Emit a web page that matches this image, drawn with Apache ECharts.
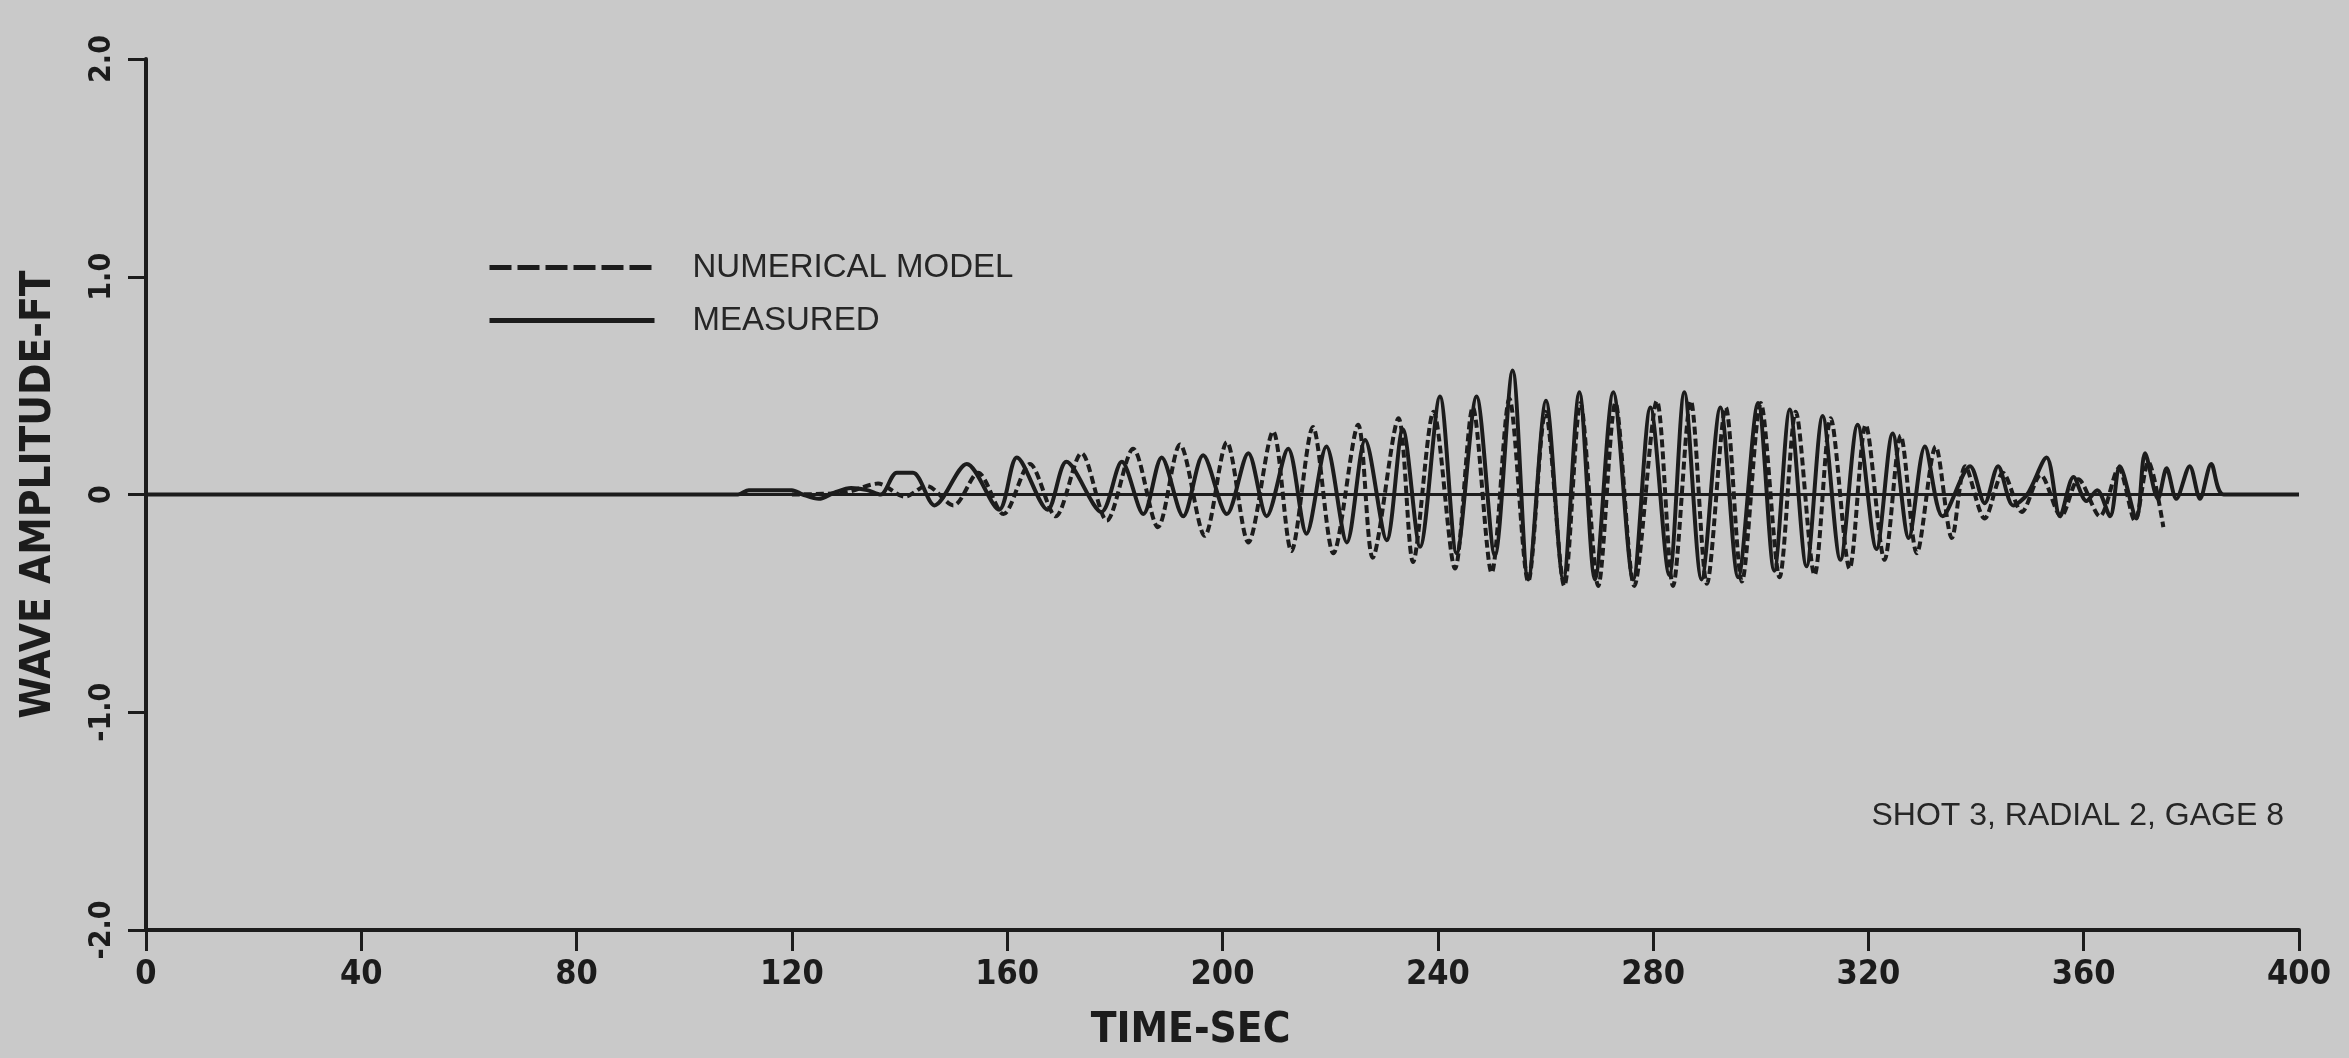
<!DOCTYPE html>
<html>
<head>
<meta charset="utf-8">
<title>Shot 3, Radial 2, Gage 8</title>
<script src="https://cdn.jsdelivr.net/npm/echarts@6/dist/echarts.min.js"></script>
<style>
  html, body { margin: 0; padding: 0; background: #c9c9c9; }
  #chart1 { width: 2349px; height: 1058px; }
</style>
</head>
<body>
<div id="chart1"></div>
<script>
// Valores (tiempo en s, amplitud en ft)
const xTicks = [0, 40, 80, 120, 160, 200, 240, 280, 320, 360, 400];
const yTicks = [-2, -1, 0, 1, 2];

// Registro medido: picos y valles aproximados
const medidoT = [0, 110, 112, 120, 122, 125, 128, 131, 134, 136.5, 139.5, 142.5, 146.5, 152.5, 158.5, 161.8,
  167.5, 171, 177.5, 181.3, 185.3, 188.7, 192.7, 196.4, 200.8, 204.8, 208.2, 212.2, 215.6, 219.3, 223.1, 226.5,
  230.5, 233.5, 236.7, 240.4, 243.5, 247.2, 250.6, 253.9, 256.8, 260.1, 263.3, 266.3, 269.2, 272.6, 276.3, 279.5,
  283, 285.8, 289, 292.5, 295.8, 299.5, 302.5, 305.4, 308.5, 311.5, 314.8, 318, 321.5, 324.5, 327.5, 330.5,
  333.8, 338.9, 341.6, 344.1, 346.9, 349.5, 353.1, 355.6, 358.1, 360.5, 362.5, 364.9, 366.7, 369.8, 371.4, 373.8,
  375.4, 377.2, 379.7, 381.6, 383.7, 386, 400];
const medidoV = [0, 0, 0.02, 0.02, 0, -0.02, 0.01, 0.03, 0.02, 0, 0.1, 0.1, -0.05, 0.14, -0.07, 0.17,
  -0.07, 0.15, -0.08, 0.15, -0.09, 0.17, -0.1, 0.18, -0.09, 0.19, -0.1, 0.21, -0.18, 0.22, -0.22, 0.25,
  -0.21, 0.3, -0.24, 0.45, -0.27, 0.45, -0.28, 0.57, -0.39, 0.43, -0.39, 0.47, -0.39, 0.47, -0.39, 0.4,
  -0.37, 0.47, -0.39, 0.4, -0.38, 0.42, -0.35, 0.39, -0.33, 0.36, -0.3, 0.32, -0.25, 0.28, -0.2, 0.22,
  -0.1, 0.13, -0.04, 0.13, -0.05, 0, 0.17, -0.1, 0.08, -0.03, 0.02, -0.1, 0.13, -0.11, 0.19, -0.02,
  0.12, -0.02, 0.13, -0.02, 0.14, 0, 0];

// Modelo numérico (línea discontinua)
const modeloT = [120, 130, 136, 141, 145, 150, 154.6, 159.3, 164.2, 169, 173.8, 178.5, 183.4, 188, 192.1, 196.7,
  200.8, 204.8, 209.4, 212.8, 216.8, 220.6, 225.2, 227.9, 232.7, 235.4, 239.2, 243.2, 246.5, 250, 253.3, 256.8,
  260, 263.5, 266.5, 269.8, 273, 276.5, 280.7, 283.7, 287, 290, 293.5, 296.5, 300, 303.5, 306.5, 310,
  313, 316.5, 319.5, 323, 326, 329, 332.5, 335.5, 338, 341.6, 345, 348.5, 352, 355.8, 359, 363,
  366.5, 369.5, 372, 374.8];
const modeloV = [0, 0.01, 0.05, -0.01, 0.04, -0.05, 0.1, -0.09, 0.14, -0.1, 0.19, -0.12, 0.21, -0.15, 0.23, -0.19,
  0.24, -0.22, 0.29, -0.26, 0.31, -0.27, 0.32, -0.29, 0.35, -0.31, 0.38, -0.34, 0.4, -0.36, 0.44, -0.4,
  0.38, -0.42, 0.42, -0.42, 0.42, -0.42, 0.43, -0.42, 0.43, -0.41, 0.4, -0.4, 0.42, -0.38, 0.38, -0.37,
  0.35, -0.34, 0.32, -0.3, 0.27, -0.27, 0.22, -0.2, 0.13, -0.11, 0.1, -0.08, 0.09, -0.1, 0.07, -0.1,
  0.12, -0.12, 0.15, -0.15];

const tinta = '#1c1c1c';
const fuenteEje = "'DejaVu Sans Condensed', 'DejaVu Sans', sans-serif";
const fuenteTexto = "'Liberation Sans', Arial, sans-serif";

const pares = (t, v) => t.map((x, i) => [x, v[i]]);

const getOptionChart1 = () => {
    return {
        backgroundColor: '#c9c9c9',
        animation: false,
        title: {
            text: 'SHOT 3, RADIAL 2, GAGE 8',
            right: 60,
            top: 795,
            textStyle: { fontFamily: fuenteTexto, fontSize: 32, fontWeight: 'normal', color: '#262626' }
        },
        legend: {
            orient: 'vertical',
            left: 482,
            top: 246,
            itemWidth: 165,
            itemHeight: 14,
            itemGap: 20,
            // sin el circulito en el icono, solo la línea
            itemStyle: { opacity: 0 },
            data: [
                { name: 'NUMERICAL MODEL', lineStyle: { type: [22, 6], width: 5 } },
                { name: 'MEASURED', lineStyle: { width: 5 } }
            ],
            textStyle: { fontFamily: fuenteTexto, fontSize: 33, color: '#262626', padding: [0, 0, 0, 33] }
        },
        grid: { left: 146, right: 50, top: 59, bottom: 128 },
        xAxis: {
            type: 'value',
            min: xTicks[0],
            max: xTicks[xTicks.length - 1],
            interval: 40,
            name: 'TIME-SEC',
            nameLocation: 'middle',
            nameGap: 80,
            nameTextStyle: { fontFamily: fuenteEje, fontWeight: 'bold', fontSize: 42, color: tinta, padding: [0, 64, 0, 0] },
            axisLine: { onZero: false, lineStyle: { color: tinta, width: 4 } },
            axisTick: { length: 21, lineStyle: { color: tinta, width: 3 } },
            axisLabel: {
                margin: 28,
                fontFamily: fuenteEje, fontWeight: 'bold', fontSize: 34, color: tinta,
                formatter: v => xTicks.includes(v) ? String(v) : ''
            },
            splitLine: { show: false }
        },
        yAxis: {
            type: 'value',
            min: yTicks[0],
            max: yTicks[yTicks.length - 1],
            interval: 1,
            name: 'WAVE AMPLITUDE-FT',
            nameLocation: 'middle',
            nameRotate: 90,
            nameGap: 86,
            nameTextStyle: { fontFamily: fuenteEje, fontWeight: 'bold', fontSize: 42, color: tinta },
            axisLine: { show: true, onZero: false, lineStyle: { color: tinta, width: 4 } },
            axisTick: { show: true, length: 18, lineStyle: { color: tinta, width: 3 } },
            axisLabel: {
                rotate: 90,
                margin: 29,
                fontFamily: fuenteEje, fontWeight: 'bold', fontSize: 30, color: tinta,
                formatter: v => v === 0 ? '0' : v.toFixed(1)
            },
            splitLine: { show: false }
        },
        series: [
            {
                name: 'NUMERICAL MODEL',
                type: 'line',
                data: pares(modeloT, modeloV),
                symbol: 'none',
                smooth: 0.3,
                lineStyle: { color: tinta, width: 4, type: [8, 4] },
                itemStyle: { color: tinta }
            },
            {
                name: 'MEASURED',
                type: 'line',
                data: pares(medidoT, medidoV),
                symbol: 'none',
                smooth: 0.3,
                lineStyle: { color: tinta, width: 4 },
                itemStyle: { color: tinta },
                // línea base en cero
                markLine: {
                    silent: true,
                    symbol: 'none',
                    label: { show: false },
                    lineStyle: { color: tinta, width: 3, type: 'solid' },
                    data: [{ yAxis: 0 }]
                }
            }
        ]
    };
};

const initCharts = () => {
    const chart1 = echarts.init(document.getElementById('chart1'));
    chart1.setOption(getOptionChart1());
};

window.addEventListener('load', () => {
    initCharts();
});
</script>
</body>
</html>
